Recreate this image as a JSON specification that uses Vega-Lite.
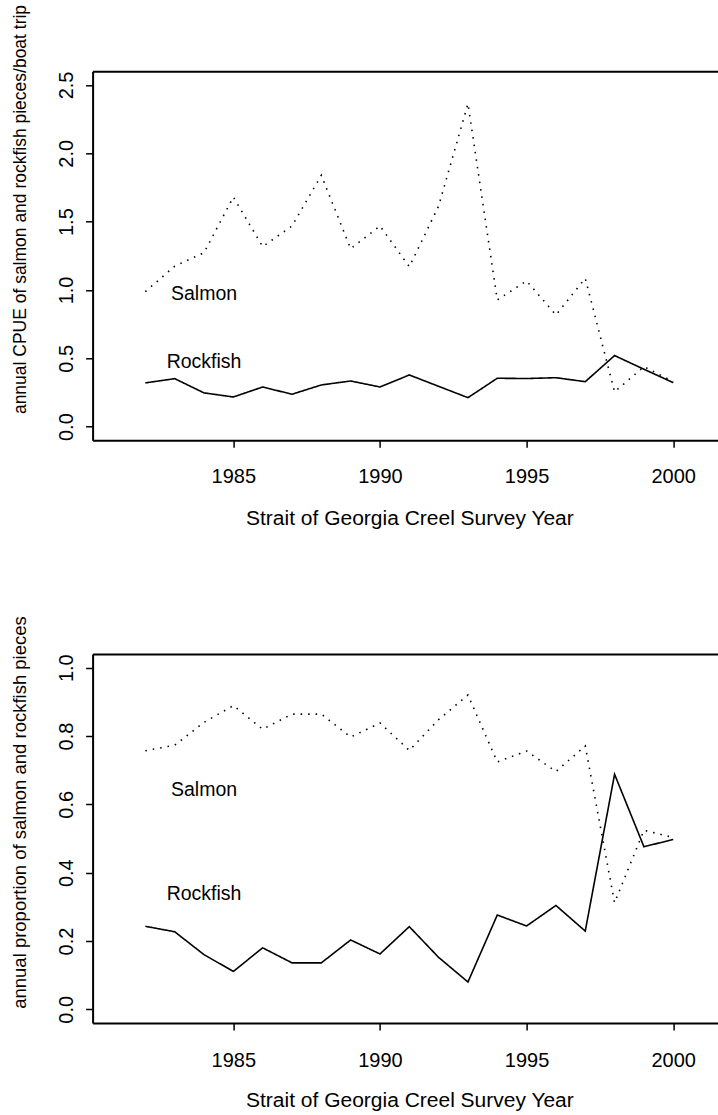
{
  "$schema": "https://vega.github.io/schema/vega-lite/v6.json",
  "padding": {"left": 10.6, "top": 3.3, "right": 0, "bottom": 0},
  "background": "white",
  "config": {
    "view": {"stroke": null},
    "font": "Liberation Sans",
    "axis": {
      "grid": false,
      "domainColor": "black",
      "domainWidth": 2,
      "tickColor": "black",
      "tickWidth": 1.5,
      "tickSize": 7,
      "labelColor": "black",
      "titleColor": "black",
      "labelFont": "Liberation Sans",
      "titleFont": "Liberation Sans",
      "titleFontWeight": "normal",
      "labelFlush": false,
      "labelOverlap": false
    }
  },
  "datasets": {
    "cpue": [
      {"year": 1982, "species": "Salmon", "value": 0.988},
      {"year": 1983, "species": "Salmon", "value": 1.174},
      {"year": 1984, "species": "Salmon", "value": 1.273},
      {"year": 1985, "species": "Salmon", "value": 1.68},
      {"year": 1986, "species": "Salmon", "value": 1.317},
      {"year": 1987, "species": "Salmon", "value": 1.468},
      {"year": 1988, "species": "Salmon", "value": 1.839},
      {"year": 1989, "species": "Salmon", "value": 1.302},
      {"year": 1990, "species": "Salmon", "value": 1.468},
      {"year": 1991, "species": "Salmon", "value": 1.17},
      {"year": 1992, "species": "Salmon", "value": 1.614},
      {"year": 1993, "species": "Salmon", "value": 2.363},
      {"year": 1994, "species": "Salmon", "value": 0.927},
      {"year": 1995, "species": "Salmon", "value": 1.066},
      {"year": 1996, "species": "Salmon", "value": 0.817},
      {"year": 1997, "species": "Salmon", "value": 1.085},
      {"year": 1998, "species": "Salmon", "value": 0.254},
      {"year": 1999, "species": "Salmon", "value": 0.439},
      {"year": 2000, "species": "Salmon", "value": 0.33},
      {"year": 1982, "species": "Rockfish", "value": 0.32},
      {"year": 1983, "species": "Rockfish", "value": 0.351},
      {"year": 1984, "species": "Rockfish", "value": 0.247},
      {"year": 1985, "species": "Rockfish", "value": 0.217},
      {"year": 1986, "species": "Rockfish", "value": 0.29},
      {"year": 1987, "species": "Rockfish", "value": 0.237},
      {"year": 1988, "species": "Rockfish", "value": 0.305},
      {"year": 1989, "species": "Rockfish", "value": 0.334},
      {"year": 1990, "species": "Rockfish", "value": 0.29},
      {"year": 1991, "species": "Rockfish", "value": 0.378},
      {"year": 1992, "species": "Rockfish", "value": 0.295},
      {"year": 1993, "species": "Rockfish", "value": 0.212},
      {"year": 1994, "species": "Rockfish", "value": 0.354},
      {"year": 1995, "species": "Rockfish", "value": 0.352},
      {"year": 1996, "species": "Rockfish", "value": 0.358},
      {"year": 1997, "species": "Rockfish", "value": 0.329},
      {"year": 1998, "species": "Rockfish", "value": 0.52},
      {"year": 1999, "species": "Rockfish", "value": 0.42},
      {"year": 2000, "species": "Rockfish", "value": 0.322}
    ],
    "prop": [
      {"year": 1982, "species": "Salmon", "value": 0.757},
      {"year": 1983, "species": "Salmon", "value": 0.773},
      {"year": 1984, "species": "Salmon", "value": 0.84},
      {"year": 1985, "species": "Salmon", "value": 0.889},
      {"year": 1986, "species": "Salmon", "value": 0.82},
      {"year": 1987, "species": "Salmon", "value": 0.864},
      {"year": 1988, "species": "Salmon", "value": 0.864},
      {"year": 1989, "species": "Salmon", "value": 0.797},
      {"year": 1990, "species": "Salmon", "value": 0.838},
      {"year": 1991, "species": "Salmon", "value": 0.758},
      {"year": 1992, "species": "Salmon", "value": 0.848},
      {"year": 1993, "species": "Salmon", "value": 0.92},
      {"year": 1994, "species": "Salmon", "value": 0.724},
      {"year": 1995, "species": "Salmon", "value": 0.756},
      {"year": 1996, "species": "Salmon", "value": 0.696},
      {"year": 1997, "species": "Salmon", "value": 0.771},
      {"year": 1998, "species": "Salmon", "value": 0.312},
      {"year": 1999, "species": "Salmon", "value": 0.524},
      {"year": 2000, "species": "Salmon", "value": 0.503},
      {"year": 1982, "species": "Rockfish", "value": 0.243},
      {"year": 1983, "species": "Rockfish", "value": 0.227},
      {"year": 1984, "species": "Rockfish", "value": 0.16},
      {"year": 1985, "species": "Rockfish", "value": 0.111},
      {"year": 1986, "species": "Rockfish", "value": 0.18},
      {"year": 1987, "species": "Rockfish", "value": 0.136},
      {"year": 1988, "species": "Rockfish", "value": 0.136},
      {"year": 1989, "species": "Rockfish", "value": 0.203},
      {"year": 1990, "species": "Rockfish", "value": 0.162},
      {"year": 1991, "species": "Rockfish", "value": 0.242},
      {"year": 1992, "species": "Rockfish", "value": 0.152},
      {"year": 1993, "species": "Rockfish", "value": 0.08},
      {"year": 1994, "species": "Rockfish", "value": 0.276},
      {"year": 1995, "species": "Rockfish", "value": 0.244},
      {"year": 1996, "species": "Rockfish", "value": 0.304},
      {"year": 1997, "species": "Rockfish", "value": 0.229},
      {"year": 1998, "species": "Rockfish", "value": 0.688},
      {"year": 1999, "species": "Rockfish", "value": 0.476},
      {"year": 2000, "species": "Rockfish", "value": 0.497}
    ],
    "labels1": [
      {"year": 1984, "value": 0.973, "label": "Salmon"},
      {"year": 1984, "value": 0.476, "label": "Rockfish"}
    ],
    "labels2": [
      {"year": 1984, "value": 0.641, "label": "Salmon"},
      {"year": 1984, "value": 0.338, "label": "Rockfish"}
    ]
  },
  "vconcat": [
    {
      "width": 625.5,
      "height": 369,
      "resolve": {"axis": {"x": "independent", "y": "independent"}},
      "layer": [
        {
          "data": {"name": "cpue"},
          "mark": {"type": "line", "color": "black", "strokeWidth": 1.6, "strokeCap": "butt"},
          "encoding": {
            "x": {
              "field": "year", "type": "quantitative",
              "scale": {"domain": [1980.2, 2001.53], "nice": false, "zero": false},
              "axis": {
                "orient": "bottom", "values": [1985, 1990, 1995, 2000], "format": "d",
                "labelFontSize": 20, "labelBaseline": "alphabetic", "labelPadding": 35,
                "title": "Strait of Georgia Creel Survey Year", "titleFontSize": 21,
                "titleBaseline": "alphabetic", "titleAlign": "center", "titleX": 316.8, "titleY": 84.5
              }
            },
            "y": {
              "field": "value", "type": "quantitative",
              "scale": {"domain": [-0.1, 2.6], "nice": false, "zero": false},
              "axis": {
                "values": [0, 0.5, 1, 1.5, 2, 2.5], "format": ".1f",
                "labelAngle": 270, "labelAlign": "center", "labelBaseline": "alphabetic",
                "labelFontSize": 20, "labelPadding": 13,
                "title": "annual CPUE of salmon and rockfish pieces/boat trip",
                "titleFontSize": 17.5, "titleAngle": 270, "titleAlign": "center",
                "titleBaseline": "alphabetic", "titleX": -66.7, "titleY": 137.7
              }
            },
            "detail": {"field": "species", "type": "nominal"},
            "strokeDash": {
              "field": "species", "type": "nominal",
              "scale": {"domain": ["Salmon", "Rockfish"], "range": [[1.5, 6], [1, 0]]},
              "legend": null
            }
          }
        },
        {
          "data": {"name": "labels1"},
          "mark": {"type": "text", "font": "Liberation Sans", "fontSize": 19.5, "align": "center", "baseline": "middle", "color": "black"},
          "encoding": {
            "x": {
              "field": "year", "type": "quantitative",
              "axis": {"orient": "top", "labels": false, "ticks": false, "domain": true, "title": null, "grid": false}
            },
            "y": {"field": "value", "type": "quantitative", "axis": null},
            "text": {"field": "label"}
          }
        }
      ]
    },
    {
      "width": 625.5,
      "height": 369,
      "resolve": {"axis": {"x": "independent", "y": "independent"}},
      "layer": [
        {
          "data": {"name": "prop"},
          "mark": {"type": "line", "color": "black", "strokeWidth": 1.6, "strokeCap": "butt"},
          "encoding": {
            "x": {
              "field": "year", "type": "quantitative",
              "scale": {"domain": [1980.2, 2001.53], "nice": false, "zero": false},
              "axis": {
                "orient": "bottom", "values": [1985, 1990, 1995, 2000], "format": "d",
                "labelFontSize": 20, "labelBaseline": "alphabetic", "labelPadding": 37,
                "title": "Strait of Georgia Creel Survey Year", "titleFontSize": 21,
                "titleBaseline": "alphabetic", "titleAlign": "center", "titleX": 316.8, "titleY": 83.5
              }
            },
            "y": {
              "field": "value", "type": "quantitative",
              "scale": {"domain": [-0.04, 1.04], "nice": false, "zero": false},
              "axis": {
                "values": [0, 0.2, 0.4, 0.6, 0.8, 1], "format": ".1f",
                "labelAngle": 270, "labelAlign": "center", "labelBaseline": "alphabetic",
                "labelFontSize": 20, "labelPadding": 13,
                "title": "annual proportion of salmon and rockfish pieces",
                "titleFontSize": 18.5, "titleAngle": 270, "titleAlign": "center",
                "titleBaseline": "alphabetic", "titleX": -66.7, "titleY": 158
              }
            },
            "detail": {"field": "species", "type": "nominal"},
            "strokeDash": {
              "field": "species", "type": "nominal",
              "scale": {"domain": ["Salmon", "Rockfish"], "range": [[1.5, 6], [1, 0]]},
              "legend": null
            }
          }
        },
        {
          "data": {"name": "labels2"},
          "mark": {"type": "text", "font": "Liberation Sans", "fontSize": 19.5, "align": "center", "baseline": "middle", "color": "black"},
          "encoding": {
            "x": {
              "field": "year", "type": "quantitative",
              "axis": {"orient": "top", "labels": false, "ticks": false, "domain": true, "title": null, "grid": false}
            },
            "y": {"field": "value", "type": "quantitative", "axis": null},
            "text": {"field": "label"}
          }
        }
      ]
    }
  ],
  "spacing": 213.7,
  "bounds": "flush"
}
